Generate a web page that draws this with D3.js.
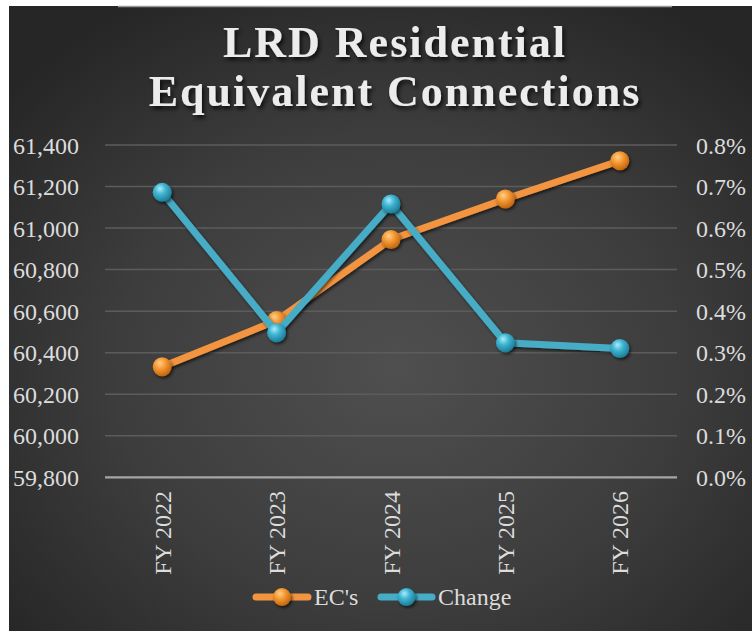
<!DOCTYPE html>
<html>
<head>
<meta charset="utf-8">
<script src="https://cdn.jsdelivr.net/npm/d3@7/dist/d3.min.js"></script>
<style>
  html, body { margin: 0; padding: 0; background: #ffffff; }
  svg { display: block; }
  text { font-family: "Liberation Serif", "Times New Roman", serif; }
</style>
</head>
<body>
<svg id="chart" width="752" height="631"></svg>
<script>
// ---- data ----
const categories = ["FY 2022", "FY 2023", "FY 2024", "FY 2025", "FY 2026"];
const ecValues = [60332, 60555, 60945, 61140, 61324];
const changeValues = [0.00686, 0.00348, 0.00658, 0.00324, 0.00310];
const leftTicks = [59800, 60000, 60200, 60400, 60600, 60800, 61000, 61200, 61400];
const rightTicks = [0, 0.001, 0.002, 0.003, 0.004, 0.005, 0.006, 0.007, 0.008];
const titleLines = ["LRD Residential", "Equivalent Connections"];
const seriesNames = ["EC's", "Change"];

const W = 752, H = 631;
const svg = d3.select("#chart");
const defs = svg.append("defs");

// background gradient
const bg = defs.append("radialGradient").attr("id", "bgGrad")
  .attr("cx", "52%").attr("cy", "58%").attr("r", "68%");
bg.append("stop").attr("offset", "0%").attr("stop-color", "#4f4f4f");
bg.append("stop").attr("offset", "55%").attr("stop-color", "#3d3d3d");
bg.append("stop").attr("offset", "100%").attr("stop-color", "#262626");

// marker gradients
function markerGrad(id, light, mid, dark) {
  const g = defs.append("radialGradient").attr("id", id)
    .attr("cx", "40%").attr("cy", "35%").attr("r", "65%").attr("fx", "38%").attr("fy", "30%");
  g.append("stop").attr("offset", "0%").attr("stop-color", light);
  g.append("stop").attr("offset", "45%").attr("stop-color", mid);
  g.append("stop").attr("offset", "100%").attr("stop-color", dark);
}
markerGrad("gOrange", "#ffd08a", "#f59a35", "#c2650f");
markerGrad("gBlue", "#a8ecfb", "#3fb4d2", "#1d7d97");

const shadow = defs.append("filter").attr("id", "shadow")
  .attr("x", "-20%").attr("y", "-20%").attr("width", "140%").attr("height", "140%");
shadow.append("feDropShadow").attr("dx", 1.5).attr("dy", 2).attr("stdDeviation", 1.8)
  .attr("flood-color", "#000").attr("flood-opacity", 0.6);

const tshadow = defs.append("filter").attr("id", "tshadow")
  .attr("x", "-10%").attr("y", "-20%").attr("width", "120%").attr("height", "150%");
tshadow.append("feDropShadow").attr("dx", 2).attr("dy", 3).attr("stdDeviation", 2)
  .attr("flood-color", "#000").attr("flood-opacity", 0.75);

// chart area background
svg.append("rect").attr("x", 9).attr("y", 6).attr("width", W - 9).attr("height", H - 6)
  .attr("fill", "url(#bgGrad)");
svg.append("line").attr("x1", 118).attr("x2", 672).attr("y1", 6.5).attr("y2", 6.5)
  .attr("stroke", "#9a9a9a").attr("stroke-width", 1.5);

// scales
const x = d3.scalePoint().domain(categories).range([105, 677]).padding(0.5);
const yL = d3.scaleLinear().domain([59800, 61400]).range([477.3, 145]);
const yR = d3.scaleLinear().domain([0, 0.008]).range([477.3, 145]);

// gridlines
svg.append("g").selectAll("line").data(leftTicks.slice(1)).join("line")
  .attr("x1", 105).attr("x2", 677)
  .attr("y1", d => yL(d)).attr("y2", d => yL(d))
  .attr("stroke", "#5c5c5c").attr("stroke-width", 1.5);

// left axis
const leftAxis = svg.append("g").attr("transform", "translate(79,0)")
  .call(d3.axisLeft(yL).tickValues(leftTicks).tickSize(0).tickPadding(0).tickFormat(d3.format(",")));
leftAxis.select(".domain").remove();
leftAxis.attr("font-family", "Liberation Serif");
leftAxis.selectAll("text").attr("fill", "#dcdcdc").attr("font-size", 24)
  .attr("font-family", "Liberation Serif").attr("dy", "0.34em");

// right axis
const rightAxis = svg.append("g").attr("transform", "translate(696,0)")
  .call(d3.axisRight(yR).tickValues(rightTicks).tickSize(0).tickPadding(0).tickFormat(d3.format(".1%")));
rightAxis.select(".domain").remove();
rightAxis.attr("font-family", "Liberation Serif");
rightAxis.selectAll("text").attr("fill", "#dcdcdc").attr("font-size", 24)
  .attr("font-family", "Liberation Serif").attr("dy", "0.34em");

// baseline
svg.append("line").attr("x1", 105).attr("x2", 677)
  .attr("y1", yL(59800)).attr("y2", yL(59800))
  .attr("stroke", "#a6a6a6").attr("stroke-width", 2.2);

// x axis labels
const xAxis = svg.append("g").attr("transform", "translate(0,491)")
  .call(d3.axisBottom(x).tickSize(0).tickPadding(0));
xAxis.select(".domain").remove();
xAxis.attr("font-family", "Liberation Serif");
xAxis.selectAll("text")
  .attr("fill", "#dcdcdc").attr("font-size", 24).attr("font-family", "Liberation Serif")
  .attr("text-anchor", "end")
  .attr("transform", "rotate(-90)")
  .attr("x", 0).attr("y", 0).attr("dx", 0).attr("dy", "0.34em");

// series
const series = [
  { name: seriesNames[0], values: ecValues, y: yL, color: "#f39441", grad: "url(#gOrange)" },
  { name: seriesNames[1], values: changeValues, y: yR, color: "#47acc6", grad: "url(#gBlue)" }
];

series.forEach(s => {
  const g = svg.append("g");
  const line = d3.line().x((d, i) => x(categories[i])).y(d => s.y(d));
  g.append("path").datum(s.values).attr("d", line)
    .attr("fill", "none").attr("stroke", s.color).attr("stroke-width", 7)
    .attr("stroke-linejoin", "round").attr("filter", "url(#shadow)");
  g.selectAll("circle").data(s.values).join("circle")
    .attr("cx", (d, i) => x(categories[i])).attr("cy", d => s.y(d)).attr("r", 9.5)
    .attr("fill", s.grad).attr("filter", "url(#shadow)");
});

// legend
const legendY = 597;
const legendItems = [
  { x1: 253, x2: 311, tx: 314, s: series[0] },
  { x1: 378, x2: 435, tx: 438, s: series[1] }
];
const lg = svg.append("g");
legendItems.forEach(it => {
  lg.append("line").attr("x1", it.x1 + 3).attr("x2", it.x2 - 3).attr("y1", legendY).attr("y2", legendY)
    .attr("stroke", it.s.color).attr("stroke-width", 7).attr("stroke-linecap", "round");
  lg.append("circle").attr("cx", (it.x1 + it.x2) / 2).attr("cy", legendY).attr("r", 9)
    .attr("fill", it.s.grad).attr("filter", "url(#shadow)");
  lg.append("text").attr("x", it.tx).attr("y", legendY).attr("dy", "0.34em")
    .attr("fill", "#dcdcdc").attr("font-size", 24).text(it.s.name);
});

// title
const tg = svg.append("g").attr("filter", "url(#tshadow)");
tg.selectAll("text").data(titleLines).join("text")
  .attr("x", 395).attr("y", (d, i) => 57 + i * 49)
  .attr("text-anchor", "middle")
  .attr("font-size", 44).attr("font-weight", "bold").attr("letter-spacing", 2)
  .attr("fill", "#ececec").text(d => d);
</script>
</body>
</html>
